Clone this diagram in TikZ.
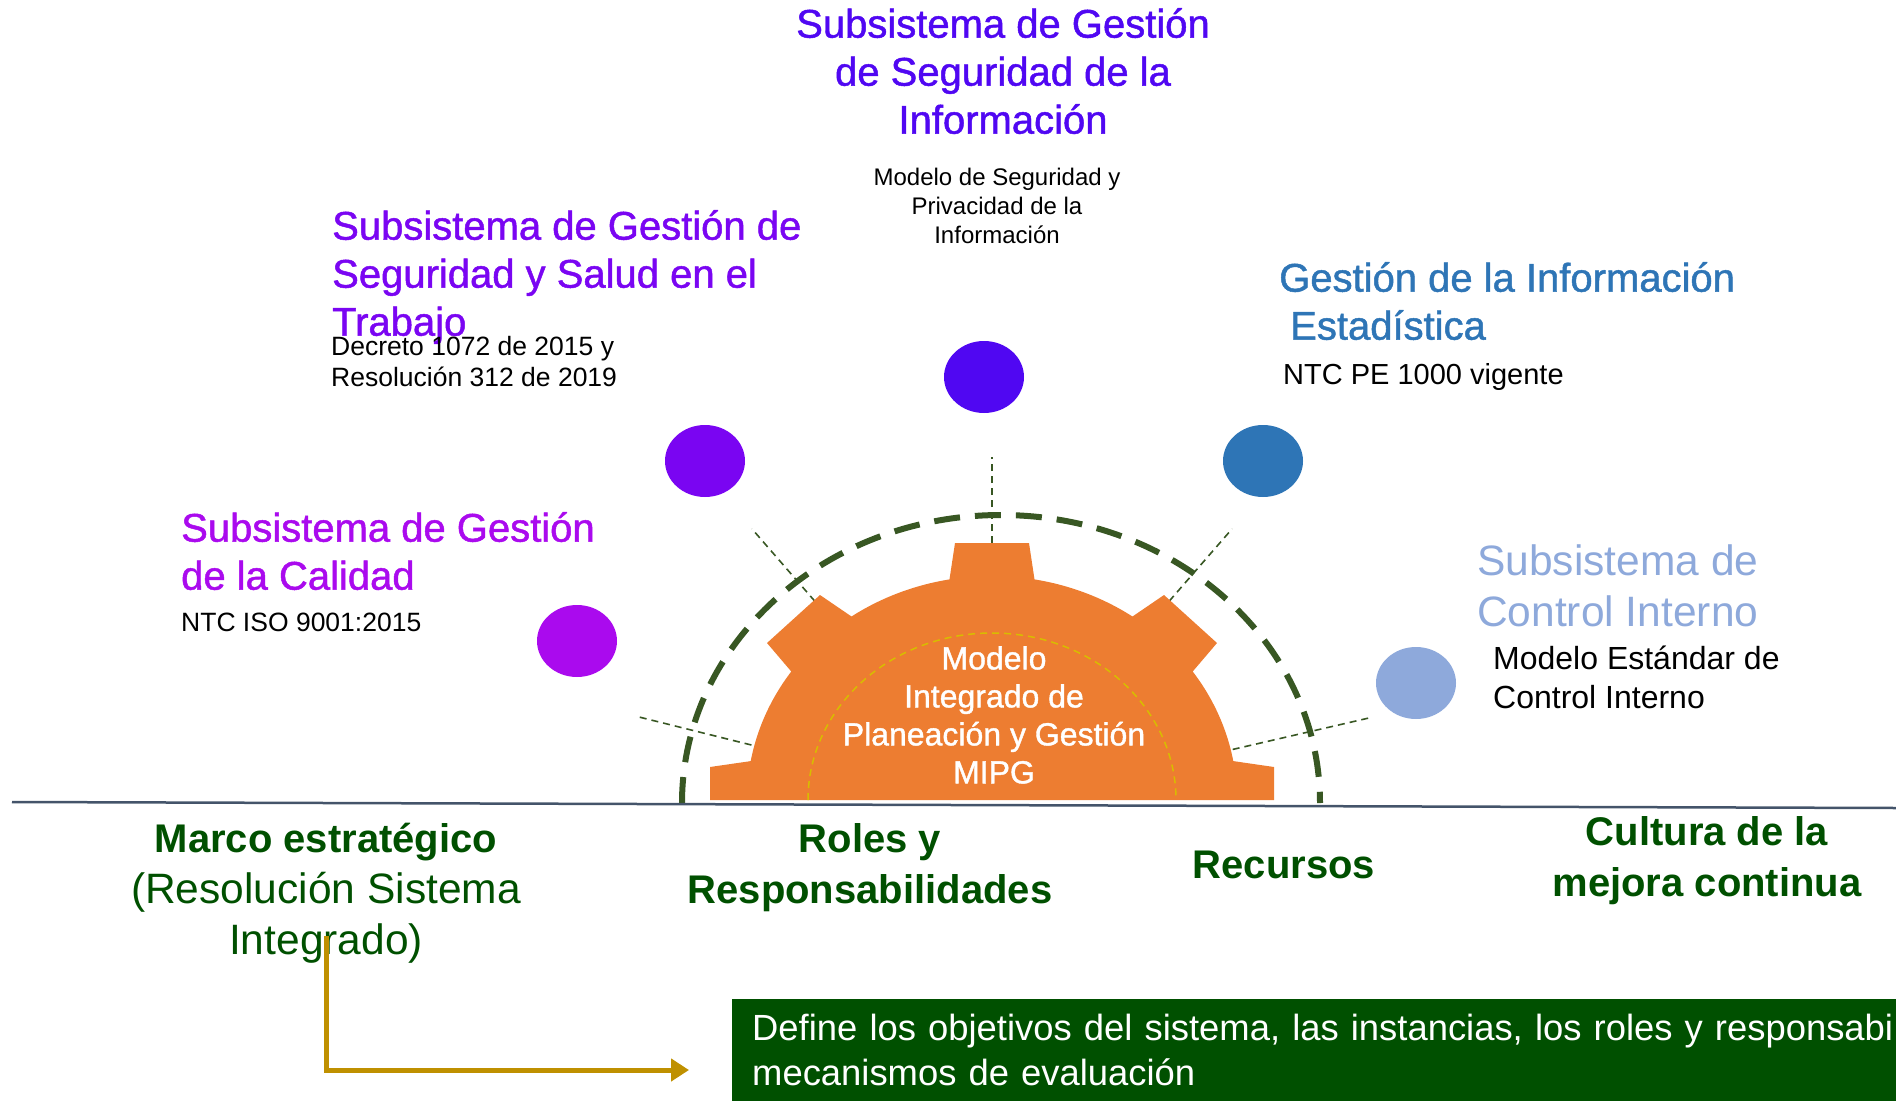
\documentclass[tikz,border=0pt]{standalone}
\usepackage{fontspec}
\setmainfont{Liberation Sans}
\newfontfamily\heavyfont[FakeBold=1.2]{Liberation Sans}
\usetikzlibrary{calc,arrows.meta,positioning,shapes.geometric}

\definecolor{segInfo}{HTML}{5007F2}
\definecolor{sstViolet}{HTML}{7A05F2}
\definecolor{calidad}{HTML}{AA0AEE}
\definecolor{estadBlue}{HTML}{2E75B6}
\definecolor{controlBlue}{HTML}{8EA9DB}
\definecolor{gearOrange}{HTML}{ED7D31}
\definecolor{ringGreen}{HTML}{385723}
\definecolor{mipgGreen}{HTML}{005000}
\definecolor{arrowGold}{HTML}{BF9000}
\definecolor{lineGray}{HTML}{44546A}

\begin{document}
\begin{tikzpicture}[x=1pt,y=-1pt,
  title/.style={inner sep=0pt,font=\heavyfont\fontsize{40}{48}\selectfont},
  note/.style={inner sep=0pt,font=\fontsize{26.5}{31}\selectfont},
  dot/.style={ellipse,minimum width=80pt,minimum height=72pt,inner sep=0pt},
  pillar/.style={inner sep=0pt,anchor=north,align=center,text=mipgGreen,
    font=\fontsize{40}{51}\selectfont\bfseries},
  radial/.style={draw=ringGreen,line width=1.6pt,dash pattern=on 7pt off 5pt},
  ring/.style={draw=ringGreen,line width=6pt,dash pattern=on 26pt off 15pt},
  defbox/.style={anchor=north west,fill=mipgGreen,text=white,align=left,
    text width=1300pt,inner xsep=20pt,inner ysep=15pt,
    font=\fontsize{36.4}{45}\selectfont},
  goldarrow/.style={-{Triangle[length=18pt,width=22pt]},draw=arrowGold,
    line width=5pt}]

  \useasboundingbox (0,0) rectangle (1896,1103);

  \coordinate (gc) at (992,805);
  \draw[ring] (682,803) arc[start angle=180,end angle=360,x radius=319,y radius=288];
  \foreach \a/\ri/\ro in {194/248/363,229/270/366,270/262/348,311/270/366,347/247/388}
    \draw[radial] ($(gc)+(\a:\ri)$) -- ($(gc)+(\a:\ro)$);

  \fill[gearOrange] (710,800) -- (710,767) -- (750.7,761.1)
    arc[start angle=190,end angle=215,x radius=245,y radius=224]
    -- (767,643) -- (820,595) -- (851.5,616.5)
    arc[start angle=235,end angle=260,x radius=245,y radius=224]
    -- (955,543) -- (1029,543) -- (1034.5,579.4)
    arc[start angle=280,end angle=305,x radius=245,y radius=224]
    -- (1164,595) -- (1217,643) -- (1192.7,671.5)
    arc[start angle=325,end angle=350,x radius=245,y radius=224]
    -- (1274,767) -- (1274,800) -- cycle;
  \draw[arrowGold!60!yellow,line width=1.5pt,dash pattern=on 7pt off 5pt]
    (808,800) arc[start angle=180,end angle=360,x radius=184,y radius=167];
  \node[inner sep=0pt,anchor=north,align=center,text=white,
    font=\heavyfont\fontsize{32}{38}\selectfont] (mipg) at (994,646)
    {Modelo\\Integrado de\\Planeación y Gestión\\MIPG};

  \node[dot,fill=calidad] (dcal) at (577,641) {};
  \node[dot,fill=sstViolet] (dsst) at (705,461) {};
  \node[dot,fill=segInfo] (dseg) at (984,377) {};
  \node[dot,fill=estadBlue] (dest) at (1263,461) {};
  \node[dot,fill=controlBlue] (dctl) at (1416,683) {};

  \node[title,anchor=north,align=center,text=segInfo] (seg) at (1003,8)
    {Subsistema de Gestión\\de Seguridad de la\\Información};
  \node[note,anchor=north,align=center,font=\fontsize{24}{29}\selectfont]
    (segn) at (997,168) {Modelo de Seguridad y\\Privacidad de la\\Información};
  \node[title,anchor=north west,align=left,text=sstViolet] (sst) at (332,210)
    {Subsistema de Gestión de\\Seguridad y Salud en el\\Trabajo};
  \node[note,anchor=north west,align=left] (sstn) at (331,336)
    {Decreto 1072 de 2015 y\\Resolución 312 de 2019};
  \node[title,anchor=north west,align=left,text=calidad] (cal) at (181,512)
    {Subsistema de Gestión\\de la Calidad};
  \node[note,anchor=north west] (caln) at (181,613) {NTC ISO 9001:2015};
  \node[title,anchor=north west,align=left,text=estadBlue] (est) at (1279,262)
    {Gestión de la Información\\\hspace*{11pt}Estadística};
  \node[note,anchor=north west,font=\fontsize{29}{35}\selectfont] (estn)
    at (1283,363) {NTC PE 1000 vigente};
  \node[inner sep=0pt,anchor=north west,align=left,text=controlBlue,
    font=\fontsize{42.5}{51}\selectfont] (ctl) at (1477,544)
    {Subsistema de\\Control Interno};
  \node[note,anchor=north west,align=left,font=\fontsize{32}{39}\selectfont]
    (ctln) at (1493,646) {Modelo Estándar de\\Control Interno};

  \draw[lineGray,line width=2.5pt] (12,802) -- (1896,808);

  \node[pillar,font=\fontsize{42.5}{51}\selectfont] (marco) at (326,823)
    {{\fontsize{40}{51}\selectfont\bfseries Marco estratégico}\\(Resolución Sistema\\Integrado)};
  \node[pillar] (roles) at (870,823) {Roles y\\Responsabilidades};
  \node[pillar] (recursos) at (1284,851) {Recursos};
  \node[pillar] (cultura) at (1707,816) {Cultura de la\\mejora continua};

  \node[defbox] (defbox) at (732,999)
    {Define los objetivos del sistema, las instancias, los roles y responsabi\\mecanismos de evaluación};
  \draw[goldarrow] ($(marco.center)+(0,43)$) |- ($(defbox.north west)+(-43,71)$);
\end{tikzpicture}
\end{document}
